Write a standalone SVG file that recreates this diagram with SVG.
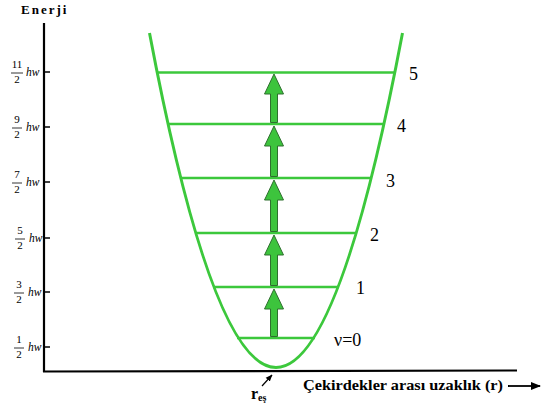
<svg xmlns="http://www.w3.org/2000/svg" width="541" height="413" viewBox="0 0 541 413">
<defs>
<style>
.axis{stroke:#000;stroke-width:2.2;fill:none}
.tick{stroke:#000;stroke-width:1.5}
.frac{font-family:"Liberation Serif","Times New Roman",serif;font-size:11px;fill:#000;text-anchor:middle}
.hw{font-family:"Liberation Serif","Times New Roman",serif;font-size:11.5px;font-style:italic;fill:#000}
.fbar{stroke:#000;stroke-width:0.8}
.curve{stroke:#3cc83c;stroke-width:3;fill:none}
.lvl{stroke:#3cc83c;stroke-width:2.6}
.arr{fill:#3dc43d;stroke:#2f6f2f;stroke-width:1}
.num{font-family:"Liberation Serif","Times New Roman",serif;font-size:18px;fill:#000}
.lbl{font-family:"Liberation Serif","Times New Roman",serif;font-weight:bold;fill:#000}
</style>
<marker id="ah" viewBox="0 0 10 10" refX="9" refY="5" markerWidth="10" markerHeight="10" markerUnits="userSpaceOnUse" orient="auto">
<path d="M0,1 L10,5 L0,9 Z" fill="#000"/>
</marker>
<marker id="ahs" viewBox="0 0 10 10" refX="9" refY="5" markerWidth="7" markerHeight="7" markerUnits="userSpaceOnUse" orient="auto">
<path d="M0,1 L10,5 L0,9 Z" fill="#000"/>
</marker>
</defs>
<rect width="541" height="413" fill="#fff"/>
<g id="axes">
<text class="lbl" x="21" y="14" font-size="13" letter-spacing="2">Enerji</text>
<line class="axis" x1="44" y1="23" x2="44" y2="372"/>
<line class="axis" x1="43" y1="371.5" x2="517" y2="370.5"/>
<text class="lbl" x="303" y="390" font-size="14" textLength="200" lengthAdjust="spacingAndGlyphs">Çekirdekler arası uzaklık (r)</text>
<line x1="508" y1="386" x2="540" y2="386" stroke="#000" stroke-width="1.8" marker-end="url(#ah)"/>
<text class="lbl" x="251" y="399" font-size="16">r<tspan font-size="10" dy="2">eş</tspan></text>
<line x1="262" y1="386" x2="272" y2="375" stroke="#000" stroke-width="1.2" marker-end="url(#ahs)"/>
</g>
<g id="ticks">
<line class="tick" x1="44" y1="72" x2="50" y2="72"/>
<line class="tick" x1="44" y1="127" x2="50" y2="127"/>
<line class="tick" x1="44" y1="182" x2="50" y2="182"/>
<line class="tick" x1="44" y1="238" x2="50" y2="238"/>
<line class="tick" x1="44" y1="292" x2="50" y2="292"/>
<line class="tick" x1="44" y1="347" x2="50" y2="347"/>
</g>
<g id="labels-y">
<g id="t11"><text class="frac" x="17" y="68">11</text><line class="fbar" x1="11" y1="73" x2="23" y2="73"/><text class="frac" x="17" y="83">2</text><text class="hw" x="26" y="76">hw</text></g>
<g id="t9"><text class="frac" x="17" y="123">9</text><line class="fbar" x1="12" y1="128" x2="22" y2="128"/><text class="frac" x="17" y="138">2</text><text class="hw" x="26" y="131">hw</text></g>
<g id="t7"><text class="frac" x="17" y="178">7</text><line class="fbar" x1="12" y1="183" x2="22" y2="183"/><text class="frac" x="17" y="193">2</text><text class="hw" x="26" y="186">hw</text></g>
<g id="t5"><text class="frac" x="20" y="234">5</text><line class="fbar" x1="15" y1="239" x2="25" y2="239"/><text class="frac" x="20" y="249">2</text><text class="hw" x="29" y="242">hw</text></g>
<g id="t3"><text class="frac" x="19" y="288">3</text><line class="fbar" x1="14" y1="293" x2="24" y2="293"/><text class="frac" x="19" y="303">2</text><text class="hw" x="28" y="296">hw</text></g>
<g id="t1"><text class="frac" x="19" y="343">1</text><line class="fbar" x1="14" y1="348" x2="24" y2="348"/><text class="frac" x="19" y="358">2</text><text class="hw" x="28" y="351">hw</text></g>
</g>
<g id="potential">
<path class="curve" d="M149.5,33 Q276,702 402.5,33"/>
</g>
<g id="levels">
<g id="v5"><line class="lvl" x1="156" y1="72.5" x2="396" y2="72.5"/><text class="num" x="409" y="80">5</text></g>
<g id="v4"><line class="lvl" x1="167" y1="124" x2="385" y2="124"/><text class="num" x="397" y="132">4</text></g>
<g id="v3"><line class="lvl" x1="180" y1="178" x2="372" y2="178"/><text class="num" x="386" y="187">3</text></g>
<g id="v2"><line class="lvl" x1="195" y1="233" x2="357" y2="233"/><text class="num" x="370" y="241">2</text></g>
<g id="v1"><line class="lvl" x1="213" y1="287" x2="339" y2="287"/><text class="num" x="356" y="294">1</text></g>
<g id="v0"><line class="lvl" x1="237" y1="338" x2="315" y2="338"/><text class="num" x="334" y="346" font-size="20">ν=0</text></g>
</g>
<g id="transitions">
<polygon class="arr" points="270.5,336.5 277.5,336.5 277.5,309 283.5,309 274,289 264.5,309 270.5,309"/>
<polygon class="arr" points="270.5,285.5 277.5,285.5 277.5,255 283.5,255 274,235 264.5,255 270.5,255"/>
<polygon class="arr" points="270.5,231.5 277.5,231.5 277.5,200 283.5,200 274,180 264.5,200 270.5,200"/>
<polygon class="arr" points="270.5,176.5 277.5,176.5 277.5,146 283.5,146 274,126 264.5,146 270.5,146"/>
<polygon class="arr" points="270.5,122.5 277.5,122.5 277.5,94 283.5,94 274,74 264.5,94 270.5,94"/>
</g>
</svg>
